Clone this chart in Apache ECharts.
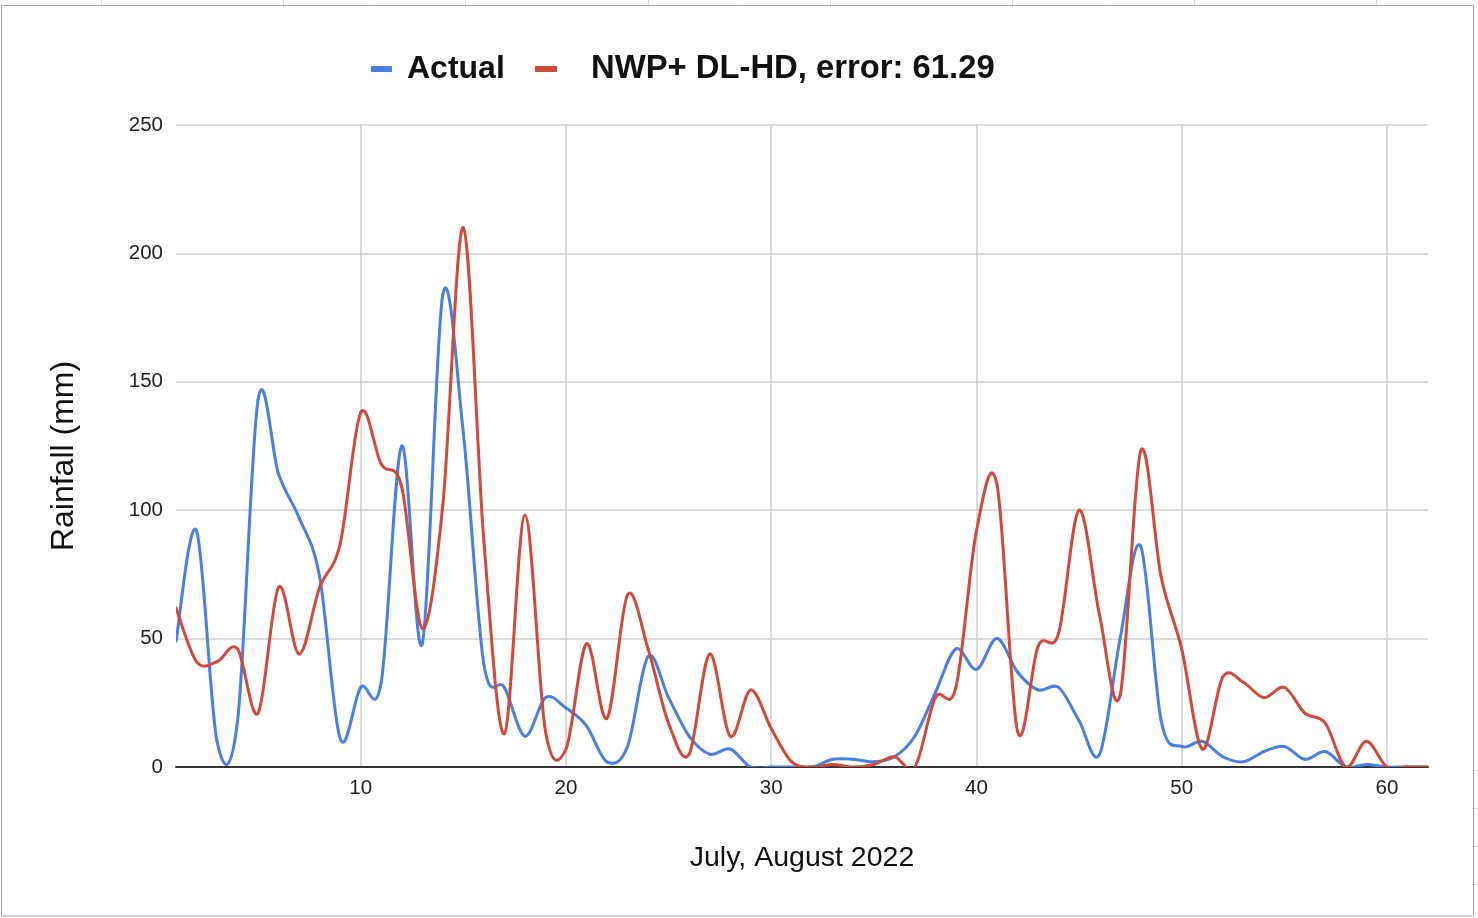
<!DOCTYPE html>
<html>
<head>
<meta charset="utf-8">
<script src="https://cdn.jsdelivr.net/npm/echarts@6/dist/echarts.min.js"></script>
<style>
html,body{margin:0;padding:0;background:#fff;}
#c{width:1478px;height:918px;}
</style>
</head>
<body>
<div id="c"></div>
<script>
var days = [1,2,3,4,5,6,7,8,9,10,11,12,13,14,15,16,17,18,19,20,21,22,23,24,25,26,27,28,29,30,31,32,33,34,35,36,37,38,39,40,41,42,43,44,45,46,47,48,49,50,51,52,53,54,55,56,57,58,59,60,61,62];
var actual = [49,92,10,18,143,114,97,74,11,31,33,125,48,184,130,40,31,12,27,23,16,2,8,43,27,12,5,7,0,0,0,0,3,3,2,4,12,29,46,38,50,37,30,31,18,5,50,86,18,8,10,4,2,6,8,3,6,0,1,0,0,0];
var predicted = [62,41,41,46,21,70,44,70,87,138,118,109,54,102,210,88,13,98,14,7,48,19,67,46,17,5,44,12,30,15,2,0,1,0,1,4,0,27,31,92,110,14,47,52,100,59,28,123,74,46,7,35,33,27,31,21,17,0,10,0,0,0];
var seriesNames = ['Actual', 'NWP+ DL-HD, error: 61.29'];
var yTicks = [0,50,100,150,200,250];

var FONT = '"Liberation Sans", Arial, sans-serif';
var blue = '#4a7fe2';
var red = '#d04a3c';

function pairs(vals){ return days.map(function(d,i){ return [d, vals[i]]; }); }

// Smooth (Catmull-Rom) curve segments, positioned through the chart's own axes via api.coord
function makeRender(vals, color){
  return function(params, api){
    var n = days.length, i = params.dataIndex;
    if (i >= n - 1) return null;
    function P(j){ j = Math.max(0, Math.min(n - 1, j)); return api.coord([days[j], vals[j]]); }
    var p0 = P(i - 1), p1 = P(i), p2 = P(i + 1), p3 = P(i + 2);
    return {
      type: 'bezierCurve',
      shape: {
        x1: p1[0], y1: p1[1], x2: p2[0], y2: p2[1],
        cpx1: p1[0] + (p2[0] - p0[0]) / 6, cpy1: p1[1] + (p2[1] - p0[1]) / 6,
        cpx2: p2[0] - (p3[0] - p1[0]) / 6, cpy2: p2[1] - (p3[1] - p1[1]) / 6
      },
      style: {stroke: color, lineWidth: 3, fill: 'none', lineCap: 'round'},
      silent: true
    };
  };
}

var topLines = [101,283,465,648,830,1012,1194,1376].map(function(x){
  return {type:'line', shape:{x1:x+0.5,y1:0,x2:x+0.5,y2:5}, style:{stroke:'#d8d8d8',lineWidth:1}, silent:true};
});
var rightLines = [770,808,846,884].map(function(y){
  return {type:'line', shape:{x1:1474,y1:y+0.5,x2:1478,y2:y+0.5}, style:{stroke:'#d8d8d8',lineWidth:1}, silent:true};
});

var chart = echarts.init(document.getElementById('c'), null, {renderer:'canvas'});
chart.setOption({
  animation: false,
  backgroundColor: '#fff',
  graphic: [{
    type:'rect', shape:{x:1.5,y:5.5,width:1472,height:910.5},
    style:{fill:'none',stroke:'#9e9e9e',lineWidth:1}, silent:true, z:-1
  }].concat(topLines).concat(rightLines),
  legend: [{
    data: [seriesNames[0]], left: 371, top: 51, padding: 0,
    icon: 'rect', itemWidth: 21, itemHeight: 6,
    textStyle: {fontFamily: FONT, fontSize: 32, fontWeight: 'bold', color: '#111', lineHeight: 36, padding: [0,0,0,10]}
  },{
    data: [seriesNames[1]], left: 535, top: 51, padding: 0,
    icon: 'rect', itemWidth: 22, itemHeight: 6,
    textStyle: {fontFamily: FONT, fontSize: 32.8, fontWeight: 'bold', color: '#111', lineHeight: 36, padding: [0,0,0,29]}
  }],
  grid: {left: 176, right: 50, top: 125, bottom: 151, containLabel: false},
  xAxis: {
    type: 'value', min: 1, max: 62,
    name: 'July, August 2022', nameLocation: 'middle', nameGap: 77,
    nameTextStyle: {fontFamily: FONT, fontSize: 28.5, color: '#111'},
    axisLine: {show: true, lineStyle: {color: '#333', width: 2}},
    axisTick: {show: false},
    axisLabel: {showMinLabel: false, showMaxLabel: false, margin: 11, fontFamily: FONT, fontSize: 20.5, color: '#222'},
    splitLine: {show: true, showMinLine: false, showMaxLine: false, lineStyle: {color: '#cfcfcf', width: 1.5}}
  },
  yAxis: {
    type: 'value', min: yTicks[0], max: yTicks[yTicks.length-1], interval: 50,
    name: 'Rainfall (mm)', nameLocation: 'middle', nameGap: 96, nameRotate: 90,
    nameTextStyle: {fontFamily: FONT, fontSize: 32, color: '#111', padding: [0, 20, 0, 0]},
    axisLine: {show: false}, axisTick: {show: false},
    axisLabel: {margin: 13, fontFamily: FONT, fontSize: 20.5, color: '#222'},
    splitLine: {show: true, lineStyle: {color: '#cfcfcf', width: 1.5}}
  },
  series: [{
    name: seriesNames[0], type: 'custom', data: pairs(actual), encode: {x: 0, y: 1},
    clip: true, itemStyle: {color: blue}, renderItem: makeRender(actual, blue)
  },{
    name: seriesNames[1], type: 'custom', data: pairs(predicted), encode: {x: 0, y: 1},
    clip: true, itemStyle: {color: red}, renderItem: makeRender(predicted, red)
  }]
});
</script>
</body>
</html>
